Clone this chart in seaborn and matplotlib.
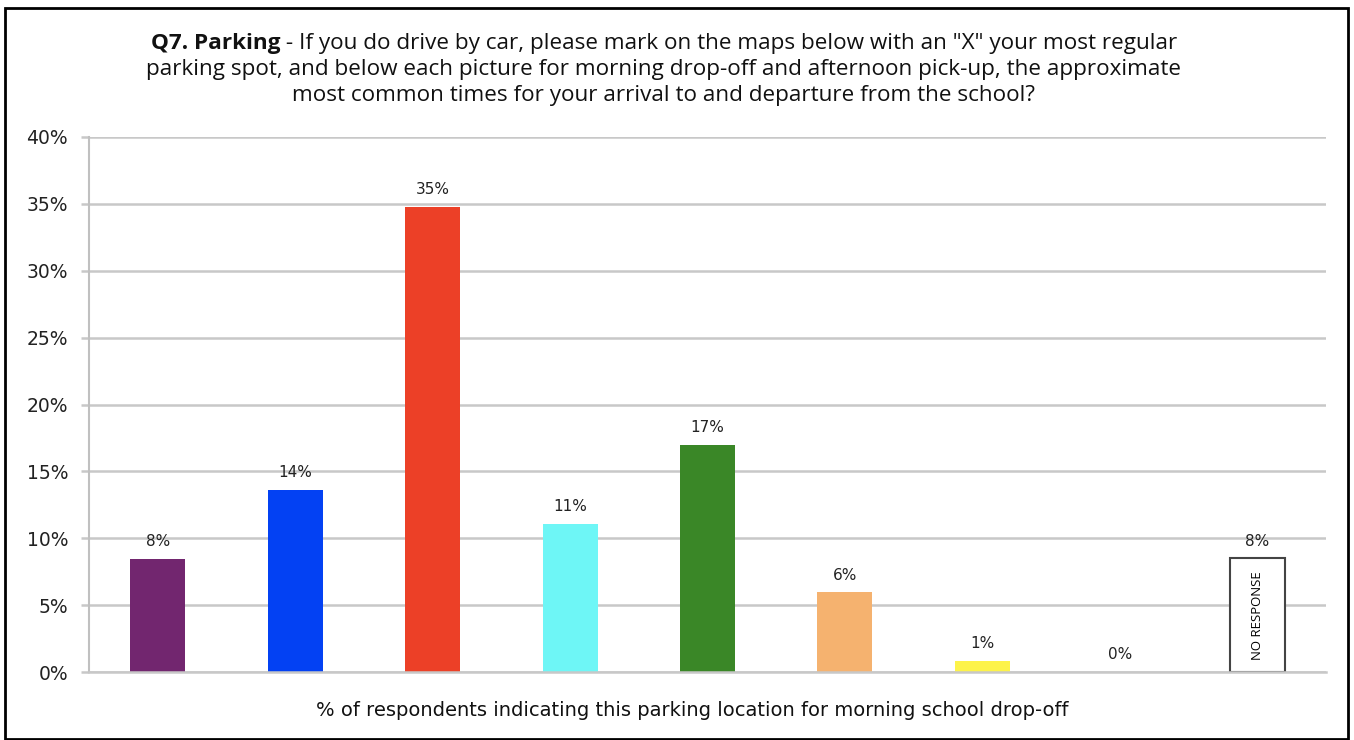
import matplotlib
matplotlib.use("Agg")
import matplotlib.pyplot as plt
import seaborn as sns
import pandas as pd
from matplotlib.ticker import FuncFormatter
from matplotlib.patches import Rectangle

categories = ["A", "B", "C", "D", "E", "F", "G", "H", "No response"]
values = [8.45, 13.6, 34.8, 11.05, 17.0, 5.95, 0.85, 0.0, 8.5]
labels = ["8%", "14%", "35%", "11%", "17%", "6%", "1%", "0%", "8%"]
colors = ["#72266f", "#0341f3", "#ec4027", "#6ef6f6", "#3a8727", "#f5b26f", "#fdf34a", "#ffffff", "#ffffff"]
yticks = [0, 5, 10, 15, 20, 25, 30, 35, 40]

title_bold = "Q7. Parking"
title_rest = (" - If you do drive by car, please mark on the maps below with an \"X\" your most regular")
title_line2 = "parking spot, and below each picture for morning drop-off and afternoon pick-up, the approximate"
title_line3 = "most common times for your arrival to and departure from the school?"
xlabel = "% of respondents indicating this parking location for morning school drop-off"

sns.set_theme(style="white")
plt.rcParams['font.family'] = ['DejaVu Sans']

df = pd.DataFrame({"cat": categories, "val": values})

fig = plt.figure(figsize=(13.54, 7.40), dpi=100)
ax = fig.add_axes([89/1354, 1-672/740, (1326-89)/1354, (672-137)/740])

sns.barplot(data=df, x="cat", y="val", hue="cat", palette=colors, legend=False,
            width=0.4, ax=ax, saturation=1, edgecolor="none")

# No-response bar outline
last = ax.patches[-1]
last.set_edgecolor("#444444")
last.set_linewidth(1.5)

ax.set_ylim(0, 40)
ax.set_xlim(-0.5, len(categories) - 0.5)
ax.set_yticks(yticks)
ax.yaxis.set_major_formatter(FuncFormatter(lambda v, p: f"{int(v)}%"))
ax.grid(axis="y", color="#c8c8c8", linewidth=1.8)
ax.set_axisbelow(True)
for s in ["top", "right"]:
    ax.spines[s].set_visible(False)
ax.spines["left"].set_color("#c0c0c0")
ax.spines["left"].set_linewidth(1.5)
ax.spines["bottom"].set_color("#c8c8c8")
ax.spines["bottom"].set_linewidth(1.8)
ax.tick_params(axis="y", left=True, length=6, color="#c8c8c8", width=1.8, pad=9,
               labelsize=13.5, labelcolor="#222222")
ax.tick_params(axis="x", bottom=False, labelbottom=False)
ax.set_xlabel("")
ax.set_ylabel("")

for i, (v, lab) in enumerate(zip(values, labels)):
    ax.annotate(lab, (i, v), xytext=(0, 7), textcoords="offset points",
                ha="center", va="bottom", fontsize=11, color="#222222")

# NO RESPONSE text inside last bar
ax.text(len(categories) - 1, values[-1] / 2, "NO RESPONSE", rotation=90,
        ha="center", va="center", fontsize=9.5, color="black", family="Open Sans")

fig.text(0.511, 1 - 711/740, xlabel, ha="center", va="center", fontsize=14, color="#111111")

# Title
tfont = "Open Sans"
tsize = 16.2
tcx = 664
r = fig.canvas.get_renderer()
tb = fig.text(0, 0, title_bold, fontsize=tsize, fontweight="bold", family=tfont, color="#111111")
tr = fig.text(0, 0, title_rest, fontsize=tsize, family=tfont, color="#111111")
wb = tb.get_window_extent(r).width
wr = tr.get_window_extent(r).width
x0 = tcx - (wb + wr) / 2
tb.set_position((x0 / fig.bbox.width, 1 - 43/740))
tb.set_va("center")
tr.set_position(((x0 + wb) / fig.bbox.width, 1 - 43/740))
tr.set_va("center")
fig.text(tcx/1354, 1 - 70/740, title_line2, ha="center", va="center", fontsize=tsize, color="#111111", family=tfont)
fig.text(tcx/1354, 1 - 96/740, title_line3, ha="center", va="center", fontsize=tsize, color="#111111", family=tfont)

# outer frame
fig.patches.append(Rectangle((5/1354, 1/740), 1343/1354, 731/740, transform=fig.transFigure,
                             fill=False, edgecolor="black", linewidth=2))

fig.savefig("out.png", dpi=100)
